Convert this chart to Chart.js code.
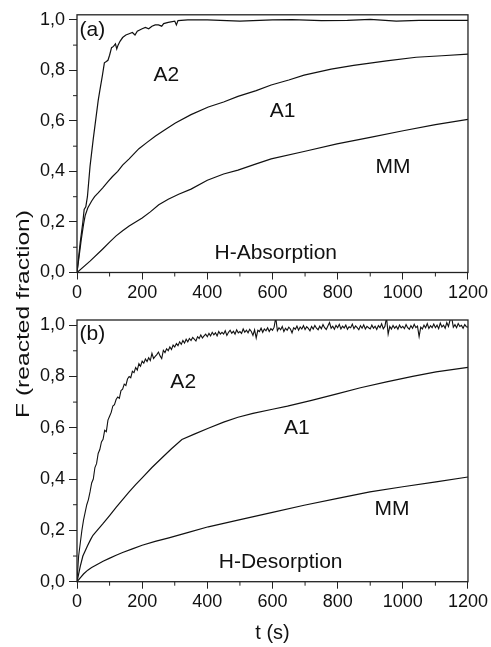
<!DOCTYPE html>
<html>
<head>
<meta charset="utf-8">
<script src="https://cdn.jsdelivr.net/npm/chart.js@4.4.1/dist/chart.umd.min.js"></script>
<style>
  html, body { margin: 0; padding: 0; background: #fff; }
  #wrap { position: relative; width: 491px; height: 647px; }
  #wrap canvas { position: absolute; left: 0; top: 0; }
</style>
</head>
<body>
<div id="wrap">
  <canvas id="absChart" width="491" height="647"></canvas>
  <canvas id="desChart" width="491" height="647"></canvas>
</div>
<script>
// (a) H-absorption, t in s, F = reacted fraction
const absA2T = [0, 10, 18, 22, 27, 32, 40, 50, 58, 65, 70, 78, 84, 90, 95, 100, 106, 112, 118, 122, 126, 132, 140, 150, 160, 170, 178, 185, 200, 210, 220, 230, 240, 250, 260, 266, 280, 300, 305, 310, 340, 400, 500, 600, 660, 750, 830, 900, 980, 1050, 1200];
const absA2F = [0, 0.12, 0.2, 0.25, 0.26, 0.3, 0.42, 0.53, 0.61, 0.68, 0.72, 0.78, 0.83, 0.835, 0.84, 0.86, 0.89, 0.895, 0.905, 0.885, 0.9, 0.915, 0.93, 0.94, 0.945, 0.95, 0.94, 0.955, 0.965, 0.97, 0.965, 0.975, 0.98, 0.98, 0.975, 0.985, 0.99, 0.995, 0.98, 0.997, 1.0, 1.0, 0.995, 1.0, 1.001, 0.997, 0.998, 1.002, 0.995, 0.998, 0.998];

const absA1T = [0, 5, 13, 20, 25, 33, 45, 54, 65, 79, 95, 109, 125, 140, 160, 190, 215, 241, 270, 302, 350, 403, 450, 494, 550, 596, 650, 697, 780, 849, 950, 1041, 1120, 1200];
const absA1F = [0, 0.05, 0.13, 0.19, 0.225, 0.255, 0.283, 0.3, 0.315, 0.335, 0.36, 0.38, 0.4, 0.425, 0.45, 0.49, 0.515, 0.54, 0.565, 0.592, 0.625, 0.655, 0.675, 0.697, 0.72, 0.742, 0.762, 0.781, 0.805, 0.82, 0.838, 0.852, 0.858, 0.864];

const absMMT = [0, 40, 79, 100, 120, 140, 160, 180, 200, 225, 251, 280, 312, 350, 400, 450, 494, 550, 596, 700, 798, 900, 1001, 1100, 1200];
const absMMF = [0, 0.045, 0.093, 0.12, 0.145, 0.165, 0.184, 0.2, 0.216, 0.24, 0.268, 0.29, 0.31, 0.33, 0.365, 0.39, 0.405, 0.43, 0.45, 0.48, 0.509, 0.535, 0.561, 0.585, 0.606];

// (b) H-desorption
const desA2T = [
  0, 5, 10, 15, 20, 25, 30, 35, 40, 45, 50, 55, 60, 65, 70, 75, 80, 85, 90, 95,
  100, 105, 110, 115, 120, 125, 130, 135, 140, 145, 150, 155, 160, 165, 170, 175, 180, 185, 190, 195,
  200, 205, 210, 215, 220, 225, 230, 235, 240, 245, 250, 255, 260, 265, 270, 275, 280, 285, 290, 295,
  300, 305, 310, 315, 320, 325, 330, 335, 340, 345, 350, 355, 360, 365, 370, 375, 380, 385, 390, 395,
  400, 405, 410, 415, 420, 425, 430, 435, 440, 445, 450, 455, 460, 465, 470, 475, 480, 485, 490, 495,
  500, 505, 510, 515, 520, 525, 530, 535, 540, 545, 550, 555, 560, 565, 570, 575, 580, 585, 590, 595,
  600, 605, 610, 615, 620, 625, 630, 635, 640, 645, 650, 655, 660, 665, 670, 675, 680, 685, 690, 695,
  700, 705, 710, 715, 720, 725, 730, 735, 740, 745, 750, 755, 760, 765, 770, 775, 780, 785, 790, 795,
  800, 805, 810, 815, 820, 825, 830, 835, 840, 845, 850, 855, 860, 865, 870, 875, 880, 885, 890, 895,
  900, 905, 910, 915, 920, 925, 930, 935, 940, 945, 950, 955, 960, 965, 970, 975, 980, 985, 990, 995,
  1000, 1005, 1010, 1015, 1020, 1025, 1030, 1035, 1040, 1045, 1050, 1055, 1060, 1065, 1070, 1075, 1080, 1085, 1090, 1095,
  1100, 1105, 1110, 1115, 1120, 1125, 1130, 1135, 1140, 1145, 1150, 1155, 1160, 1165, 1170, 1175, 1180, 1185, 1190, 1195,
  1200];
const desA2F = [
  0, 0.1, 0.15, 0.2, 0.24, 0.27, 0.3, 0.32, 0.35, 0.385, 0.4, 0.445, 0.46, 0.5, 0.515, 0.545, 0.555, 0.59, 0.585, 0.63,
  0.645, 0.66, 0.685, 0.69, 0.71, 0.72, 0.715, 0.745, 0.75, 0.77, 0.765, 0.79, 0.8, 0.795, 0.82, 0.815, 0.835, 0.825, 0.85, 0.84,
  0.86, 0.852, 0.868, 0.858, 0.873, 0.862, 0.89, 0.87, 0.878, 0.885, 0.895, 0.88, 0.87, 0.902, 0.893, 0.908, 0.9, 0.915, 0.905, 0.922,
  0.915, 0.928, 0.92, 0.935, 0.925, 0.94, 0.93, 0.945, 0.935, 0.948, 0.94, 0.952, 0.945, 0.938, 0.955, 0.948, 0.962, 0.95, 0.958, 0.965,
  0.955, 0.968, 0.958, 0.972, 0.962, 0.97, 0.958, 0.975, 0.965, 0.972, 0.965, 0.978, 0.96, 0.972, 0.98, 0.968, 0.976, 0.965, 0.982, 0.97,
  0.975, 0.968, 0.985, 0.972, 0.98, 0.97, 0.984, 0.975, 0.96, 0.982, 0.95, 0.98, 0.975, 0.988, 0.972, 0.985, 0.978, 0.99, 0.975, 0.986,
  0.98, 0.992, 1.03, 0.978, 0.99, 0.982, 0.995, 0.975, 0.988, 0.98, 0.992, 0.985, 0.97, 0.99, 0.984, 0.996, 0.98, 0.993, 0.985, 0.998,
  0.983, 0.994, 0.987, 0.978, 0.995, 0.985, 0.999, 0.988, 0.982, 0.996, 0.986, 1.002, 0.99, 0.983, 0.997, 1.01, 0.988, 0.996, 0.984, 0.999,
  0.99, 1.003, 0.985, 0.996, 0.989, 1.0, 0.984, 0.994, 0.99, 1.004, 0.986, 0.997, 0.99, 0.982, 0.998, 0.988, 1.001, 0.985, 0.995, 0.99,
  0.985, 1.0, 0.988, 0.996, 0.983, 0.998, 0.99, 1.005, 0.986, 0.995, 1.03, 0.965, 0.995, 0.985, 0.999, 0.988, 0.996, 0.984, 1.0, 0.989,
  0.995, 0.986, 1.002, 0.99, 0.984, 0.998, 0.988, 1.003, 0.99, 0.996, 0.955, 0.992, 0.985, 1.0, 0.99, 1.006, 0.987, 0.998, 0.99, 1.004,
  0.99, 1.0, 0.986, 1.008, 0.993, 1.0, 0.988, 1.01, 0.995, 1.02, 1.03, 0.992, 1.002, 0.99, 1.006, 0.995, 0.999, 0.988, 1.002, 0.994,
  0.992];

const desA1T = [0, 5, 10, 18, 25, 33, 42, 49, 60, 79, 100, 120, 140, 160, 180, 200, 230, 261, 290, 322, 360, 403, 450, 494, 540, 600, 646, 720, 798, 870, 950, 1030, 1102, 1200];
const desA1F = [0, 0.03, 0.06, 0.1, 0.12, 0.142, 0.165, 0.181, 0.197, 0.225, 0.258, 0.29, 0.32, 0.35, 0.378, 0.405, 0.445, 0.483, 0.518, 0.554, 0.575, 0.598, 0.622, 0.641, 0.656, 0.672, 0.684, 0.707, 0.732, 0.756, 0.779, 0.8, 0.818, 0.835];

const desMMT = [0, 10, 20, 33, 45, 59, 80, 99, 120, 140, 170, 200, 240, 282, 342, 403, 494, 600, 697, 800, 899, 1000, 1102, 1200];
const desMMF = [0, 0.015, 0.03, 0.045, 0.055, 0.065, 0.08, 0.091, 0.103, 0.114, 0.128, 0.142, 0.157, 0.171, 0.192, 0.214, 0.24, 0.27, 0.298, 0.325, 0.35, 0.37, 0.389, 0.408];

const xTicks = [0, 200, 400, 600, 800, 1000, 1200];
const yTicks = [0, 0.2, 0.4, 0.6, 0.8, 1.0];
const yTitle = "F (reacted fraction)";
const xTitle = "t (s)";

const FONT = "'Liberation Sans', Arial, Helvetica, sans-serif";
const INK = "#111";

// frame, minor ticks and the curve labels (placed in data coordinates)
const framePlugin = {
  id: "frame",
  afterDraw(chart, args, opts) {
    const { ctx, chartArea: a, scales } = chart;
    ctx.save();
    ctx.strokeStyle = "#222";
    ctx.lineWidth = 1.3;
    ctx.strokeRect(a.left, a.top, a.right - a.left, a.bottom - a.top);

    ctx.lineWidth = 1;
    ctx.beginPath();
    for (let i = 0; i < xTicks.length - 1; i++) {
      const x = scales.x.getPixelForValue((xTicks[i] + xTicks[i + 1]) / 2);
      ctx.moveTo(x, a.bottom);
      ctx.lineTo(x, a.bottom + 4);
    }
    for (let i = 0; i < yTicks.length - 1; i++) {
      const y = scales.y.getPixelForValue((yTicks[i] + yTicks[i + 1]) / 2);
      ctx.moveTo(a.left - 4, y);
      ctx.lineTo(a.left, y);
    }
    ctx.stroke();

    ctx.fillStyle = INK;
    ctx.font = "21px " + FONT;
    ctx.textBaseline = "middle";
    (opts.labels || []).forEach(l => {
      ctx.textAlign = l.align || "center";
      ctx.fillText(l.text, scales.x.getPixelForValue(l.t), scales.y.getPixelForValue(l.f));
    });
    ctx.restore();
  }
};

// axis titles shared by both panels
const titlePlugin = {
  id: "titles",
  afterDraw(chart) {
    const { ctx, chartArea: a } = chart;
    ctx.save();
    ctx.fillStyle = INK;
    ctx.textAlign = "center";
    ctx.textBaseline = "middle";
    ctx.font = "20px " + FONT;
    ctx.fillText(xTitle, (a.left + a.right) / 2, 633);

    ctx.translate(24, 314);
    ctx.rotate(-Math.PI / 2);
    ctx.font = "19px " + FONT;
    const w = ctx.measureText(yTitle).width;
    ctx.scale(208 / w, 1);
    ctx.fillText(yTitle, 0, 0);
    ctx.restore();
  }
};

function line(t, f, width) {
  return {
    data: t.map((v, i) => ({ x: v, y: f[i] })),
    borderColor: INK,
    borderWidth: width || 1.2,
    pointRadius: 0,
    tension: 0,
    fill: false
  };
}

function makeChart(id, datasets, labels, padTop, padBottom, extra) {
  return new Chart(document.getElementById(id), {
    type: "line",
    data: { datasets },
    options: {
      responsive: false,
      animation: false,
      events: [],
      layout: { padding: { left: 0, right: 19, top: padTop, bottom: padBottom } },
      plugins: {
        legend: { display: false },
        tooltip: { enabled: false },
        frame: { labels }
      },
      scales: {
        x: {
          type: "linear",
          min: 0,
          max: 1200,
          afterFit: s => { s.height = 40; },
          afterBuildTicks: s => { s.ticks = xTicks.map(v => ({ value: v })); },
          ticks: {
            maxRotation: 0,
            autoSkip: false,
            padding: 3,
            color: INK,
            font: { family: FONT, size: 18 },
            callback: v => String(v)
          },
          grid: { drawOnChartArea: false, drawTicks: true, tickLength: 7, color: "#222" },
          border: { display: false }
        },
        y: {
          type: "linear",
          min: 0,
          max: 1.02,
          afterFit: s => { s.width = 77; },
          afterBuildTicks: s => { s.ticks = yTicks.map(v => ({ value: v })); },
          ticks: {
            padding: 4,
            color: INK,
            font: { family: FONT, size: 18 },
            callback: v => v.toFixed(1).replace(".", ",")
          },
          grid: { drawOnChartArea: false, drawTicks: true, tickLength: 8, color: "#222" },
          border: { display: false }
        }
      }
    },
    plugins: [framePlugin].concat(extra || [])
  });
}

makeChart("absChart",
  [line(absA2T, absA2F), line(absA1T, absA1F), line(absMMT, absMMF)],
  [
    { text: "(a)", t: 8, f: 0.96, align: "left" },
    { text: "A2", t: 274, f: 0.78 },
    { text: "A1", t: 631, f: 0.64 },
    { text: "MM", t: 970, f: 0.418 },
    { text: "H-Absorption", t: 610, f: 0.076 }
  ],
  11, 334.5);

makeChart("desChart",
  [line(desA2T, desA2F, 1.1), line(desA1T, desA1F), line(desMMT, desMMF)],
  [
    { text: "(b)", t: 8, f: 0.966, align: "left" },
    { text: "A2", t: 326, f: 0.776 },
    { text: "A1", t: 675, f: 0.597 },
    { text: "MM", t: 967, f: 0.282 },
    { text: "H-Desorption", t: 625, f: 0.076 }
  ],
  320, 25.3, [titlePlugin]);
</script>
</body>
</html>
